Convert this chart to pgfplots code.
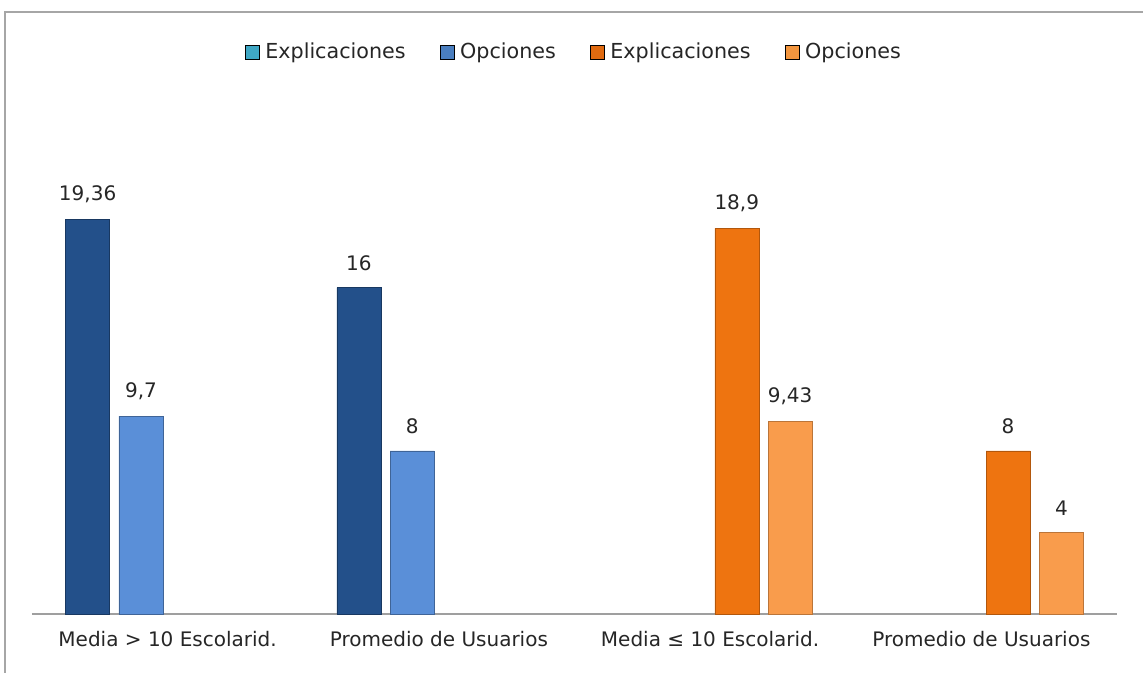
\documentclass[border=0pt]{standalone}
\usepackage{pgfplots}
\pgfplotsset{compat=1.18}
\usepackage{fontspec}
\setmainfont{DejaVu Sans}
\definecolor{dblue}{HTML}{23508A}
\definecolor{lblue}{HTML}{5A8FD8}
\definecolor{dorange}{HTML}{EE7410}
\definecolor{lorange}{HTML}{F99C4C}
\definecolor{legteal}{HTML}{3FA7C4}
\definecolor{legblue}{HTML}{4A7EBF}
\definecolor{legorange}{HTML}{E06A10}
\definecolor{leglorange}{HTML}{F3963F}
\begin{document}
\begin{tikzpicture}
\begin{axis}[
  at={(24pt,43.5pt)}, anchor=south west,
  scale only axis, width=813.75pt, height=382.5pt,
  xmin=-0.5, xmax=3.5, ymin=0, ymax=25,
  axis x line=bottom, axis y line=none,
  x axis line style={-, draw=gray!75, line width=1.5pt},
  xtick={0,1,2,3},
  xticklabels={Media > 10 Escolarid., Promedio de Usuarios, Media ≤ 10 Escolarid., Promedio de Usuarios},
  xtick style={draw=none},
  xticklabel style={font=\fontsize{15}{18}\selectfont, text=black!85, yshift=-5pt},
  ytick=\empty,
  ybar, bar width=33pt,
  nodes near coords,
  nodes near coords style={font=\fontsize{15}{18}\selectfont, text=black!85, anchor=south, yshift=9pt},
  /pgf/number format/.cd, use comma, precision=2, assume math mode=true,
  /pgfplots/.cd,
  legend columns=4,
  legend style={at={(0.5,1)}, anchor=center, yshift=39pt, draw=none,
    font=\fontsize{15.5}{18}\selectfont, text=black!85,
    /tikz/every odd column/.append style={column sep=2pt},
    /tikz/every even column/.append style={column sep=24pt}},
  legend image code/.code={\fill[#1] (0pt,-5.25pt) rectangle (10.5pt,5.25pt);},
]
\addplot[fill=dblue, draw=dblue!70!black, bar shift=-60pt, forget plot] coordinates {(0,19.36) (1,16)};
\addplot[fill=lblue, draw=lblue!70!black, bar shift=-20pt, forget plot] coordinates {(0,9.7) (1,8)};
\addplot[fill=dorange, draw=dorange!75!black, bar shift=20pt, forget plot] coordinates {(2,18.9) (3,8)};
\addplot[fill=lorange, draw=lorange!75!black, bar shift=60pt, forget plot] coordinates {(2,9.43) (3,4)};
\addlegendimage{fill=legteal}
\addlegendentry{Explicaciones}
\addlegendimage{fill=legblue}
\addlegendentry{Opciones}
\addlegendimage{fill=legorange}
\addlegendentry{Explicaciones}
\addlegendimage{fill=leglorange}
\addlegendentry{Opciones}
\end{axis}
\draw[gray!70, line width=1.5pt] (3.75pt,-10pt) -- (3.75pt,495pt) -- (870pt,495pt);
\pgfresetboundingbox
\path[use as bounding box] (0,0) rectangle (857.25pt,504pt);
\end{tikzpicture}
\end{document}
